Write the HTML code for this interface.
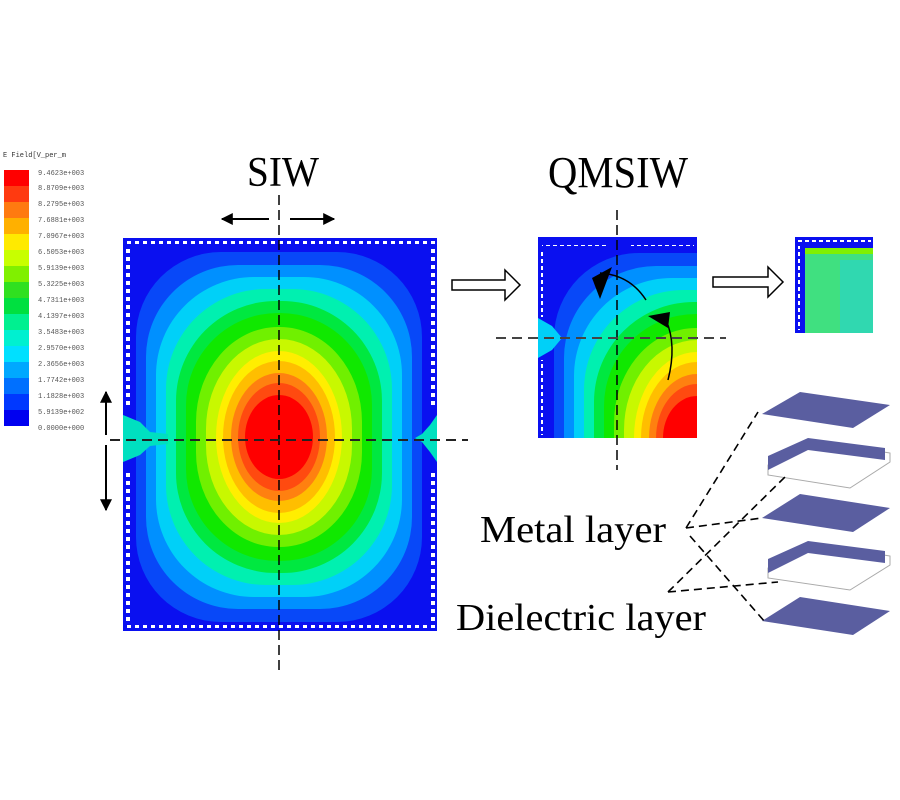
<!DOCTYPE html>
<html><head><meta charset="utf-8"><style>html,body{margin:0;padding:0;background:#fff}svg{display:block}</style></head>
<body>
<svg width="900" height="800" viewBox="0 0 900 800" xmlns="http://www.w3.org/2000/svg">
<defs>
<pattern id="vh" x="127" y="0" width="8" height="8" patternUnits="userSpaceOnUse"><rect x="0" y="0" width="4" height="4" fill="#fff"/></pattern>
<pattern id="vv" x="0" y="249" width="8" height="8" patternUnits="userSpaceOnUse"><rect x="0" y="0" width="8" height="4" fill="#fff"/></pattern>
<pattern id="vq" x="0" y="0" width="7" height="7" patternUnits="userSpaceOnUse"><rect x="0" y="0" width="4" height="4" fill="#fff"/></pattern>
<clipPath id="cq"><rect x="538" y="237" width="159" height="201"/></clipPath>
<marker id="ah" viewBox="0 0 10 10" refX="9" refY="5" markerWidth="6" markerHeight="6" orient="auto"><path d="M0,0 L10,5 L0,10 z" fill="#000"/></marker>
<g id="field">
<rect x="-143" y="-185" width="286" height="370" rx="85" fill="#0848f8"/>
<rect x="-133" y="-172" width="266" height="344" rx="92" fill="#0090ff"/>
<rect x="-123" y="-160" width="246" height="320" rx="98" fill="#00d0f8"/>
<rect x="-113" y="-148" width="226" height="296" rx="100" fill="#00f0b0"/>
<rect x="-103" y="-136" width="206" height="272" rx="100" fill="#00e840"/>
<rect x="-93" y="-124" width="186" height="248" rx="92" fill="#10e800"/>
<rect x="-83" y="-110" width="166" height="220" rx="82" ry="95" fill="#70f000"/>
<rect x="-73" y="-98" width="146" height="196" rx="73" ry="90" fill="#c8f800"/>
<ellipse rx="63" ry="86" fill="#ffee00"/>
<ellipse rx="56" ry="76" fill="#ffbe00"/>
<ellipse rx="48" ry="64" fill="#ff8010"/>
<ellipse rx="41" ry="54" fill="#ff4a10"/>
<ellipse rx="34" ry="42" fill="#ff0000"/>
</g>
</defs>
<rect width="900" height="800" fill="#fff"/>

<text x="3" y="157" font-family="Liberation Mono,monospace" font-size="7" fill="#333">E Field[V_per_m</text>
<g>
<rect x="4" y="170" width="25" height="16" fill="#ff0000"/>
<rect x="4" y="186" width="25" height="16" fill="#ff3a10"/>
<rect x="4" y="202" width="25" height="16" fill="#ff7a10"/>
<rect x="4" y="218" width="25" height="16" fill="#ffb000"/>
<rect x="4" y="234" width="25" height="16" fill="#ffea00"/>
<rect x="4" y="250" width="25" height="16" fill="#c8ff00"/>
<rect x="4" y="266" width="25" height="16" fill="#80f000"/>
<rect x="4" y="282" width="25" height="16" fill="#30e020"/>
<rect x="4" y="298" width="25" height="16" fill="#00e040"/>
<rect x="4" y="314" width="25" height="16" fill="#00f090"/>
<rect x="4" y="330" width="25" height="16" fill="#00f0d0"/>
<rect x="4" y="346" width="25" height="16" fill="#00e0ff"/>
<rect x="4" y="362" width="25" height="16" fill="#00a8ff"/>
<rect x="4" y="378" width="25" height="16" fill="#0070ff"/>
<rect x="4" y="394" width="25" height="16" fill="#0038ff"/>
<rect x="4" y="410" width="25" height="16" fill="#0000f0"/>
</g>
<g font-family="Liberation Mono,monospace" font-size="7" fill="#555">
<text x="38" y="175">9.4623e+003</text><text x="38" y="190">8.8709e+003</text><text x="38" y="206">8.2795e+003</text><text x="38" y="222">7.6881e+003</text><text x="38" y="238">7.0967e+003</text><text x="38" y="254">6.5053e+003</text><text x="38" y="270">5.9139e+003</text><text x="38" y="286">5.3225e+003</text><text x="38" y="302">4.7311e+003</text><text x="38" y="318">4.1397e+003</text><text x="38" y="334">3.5483e+003</text><text x="38" y="350">2.9570e+003</text><text x="38" y="366">2.3656e+003</text><text x="38" y="382">1.7742e+003</text><text x="38" y="398">1.1828e+003</text><text x="38" y="414">5.9139e+002</text><text x="38" y="430">0.0000e+000</text>
</g>

<line x1="106" y1="435" x2="106" y2="392" stroke="#000" stroke-width="2" marker-end="url(#ah)"/>
<line x1="106" y1="445" x2="106" y2="510" stroke="#000" stroke-width="2" marker-end="url(#ah)"/>

<text x="247" y="186" font-family="Liberation Serif,serif" font-size="42" textLength="72" lengthAdjust="spacingAndGlyphs">SIW</text>
<text x="548" y="187" font-family="Liberation Serif,serif" font-size="44" textLength="140" lengthAdjust="spacingAndGlyphs">QMSIW</text>
<line x1="269" y1="219" x2="222" y2="219" stroke="#000" stroke-width="2" marker-end="url(#ah)"/>
<line x1="290" y1="219" x2="334" y2="219" stroke="#000" stroke-width="2" marker-end="url(#ah)"/>

<rect x="123" y="238" width="314" height="393" fill="#0a10f0"/>
<use href="#field" transform="translate(279,437)"/>
<path d="M123,415 L140,422 L150,432 L168,434 L168,444 L150,446 L140,455 L123,462 Z" fill="#00e0c0"/>
<path d="M437,415 L430,425 L422,434 L415,438 L422,442 L430,452 L437,462 Z" fill="#00e0c0"/>
<rect x="125" y="241" width="310" height="4" fill="url(#vh)"/>
<rect x="125" y="625" width="310" height="4" fill="url(#vh)"/>
<rect x="126" y="249" width="4" height="156" fill="url(#vv)"/>
<rect x="126" y="469" width="4" height="152" fill="url(#vv)"/>
<rect x="431" y="249" width="4" height="156" fill="url(#vv)"/>
<rect x="431" y="469" width="4" height="152" fill="url(#vv)"/>
<line x1="279" y1="195" x2="279" y2="672" stroke="#000" stroke-width="1.5" stroke-dasharray="10,5"/>
<line x1="110" y1="440" x2="468" y2="440" stroke="#222" stroke-width="2" stroke-dasharray="10,6"/>

<path d="M452,280 L505,280 L505,270 L520,285 L505,300 L505,290 L452,290 Z" fill="#fff" stroke="#000" stroke-width="1.5"/>
<path d="M713,277 L768,277 L768,267 L783,282 L768,297 L768,287 L713,287 Z" fill="#fff" stroke="#000" stroke-width="1.5"/>

<g clip-path="url(#cq)">
<rect x="538" y="237" width="159" height="201" fill="#0a10f0"/>
<use href="#field" transform="translate(697,438)"/>
<path d="M538,318 L552,326 L562,338 L552,350 L538,358 Z" fill="#00d0f8"/>
</g>
<rect x="542" y="242" width="66" height="4" fill="url(#vq)"/>
<rect x="631" y="242" width="63" height="4" fill="url(#vq)"/>
<rect x="541" y="249" width="4" height="68" fill="url(#vq)"/>
<rect x="541" y="360" width="4" height="75" fill="url(#vq)"/>
<line x1="617" y1="210" x2="617" y2="470" stroke="#000" stroke-width="1.5" stroke-dasharray="10,5"/>
<line x1="496" y1="338" x2="726" y2="338" stroke="#444" stroke-width="2" stroke-dasharray="10,6"/>
<path d="M646,300 Q630,275 600,273" fill="none" stroke="#000" stroke-width="1.5"/>
<path d="M592,278 L612,267 L600,299 Z" fill="#000"/>
<path d="M668,380 Q677,345 666,320" fill="none" stroke="#000" stroke-width="1.5"/>
<path d="M648,316 L670,312 L668,328 Z" fill="#000"/>

<rect x="795" y="237" width="78" height="96" fill="#0a10f0"/>
<rect x="805" y="248" width="68" height="85" fill="#40e080"/>
<rect x="840" y="260" width="33" height="73" fill="#30d8b0"/>
<rect x="805" y="248" width="68" height="6" fill="#80f000"/>
<rect x="797" y="240" width="74" height="3" fill="url(#vq)"/>
<rect x="797" y="246" width="3" height="84" fill="url(#vq)"/>

<g fill="#5a5ea0">
<path d="M800,392 L890,405 L853,428 L762,414 Z"/>
<path d="M800,494 L890,508 L853,532 L762,518 Z"/>
<path d="M800,597 L890,611 L853,635 L762,621 Z"/>
</g>
<g fill="none" stroke="#aaa" stroke-width="1">
<path d="M768,465 L808,440 L890,453 L890,462 L850,488 L768,475 Z"/>
<path d="M768,568 L808,543 L890,556 L890,565 L850,590 L768,578 Z"/>
</g>
<g fill="#5a5ea0">
<path d="M768,456 L808,438 L885,448 L885,460 L808,450 L768,470 Z"/>
<path d="M768,559 L808,541 L885,551 L885,563 L808,553 L768,573 Z"/>
</g>
<g stroke="#000" stroke-width="1.6" stroke-dasharray="8,5" fill="none">
<path d="M686,528 L758,412"/>
<path d="M686,528 L762,518"/>
<path d="M690,536 L765,622"/>
<path d="M668,592 L788,474"/>
<path d="M668,592 L778,582"/>
</g>
<text x="480" y="542" font-family="Liberation Serif,serif" font-size="38" textLength="186" lengthAdjust="spacingAndGlyphs">Metal layer</text>
<text x="456" y="630" font-family="Liberation Serif,serif" font-size="38" textLength="250" lengthAdjust="spacingAndGlyphs">Dielectric layer</text>
</svg>
</body></html>
